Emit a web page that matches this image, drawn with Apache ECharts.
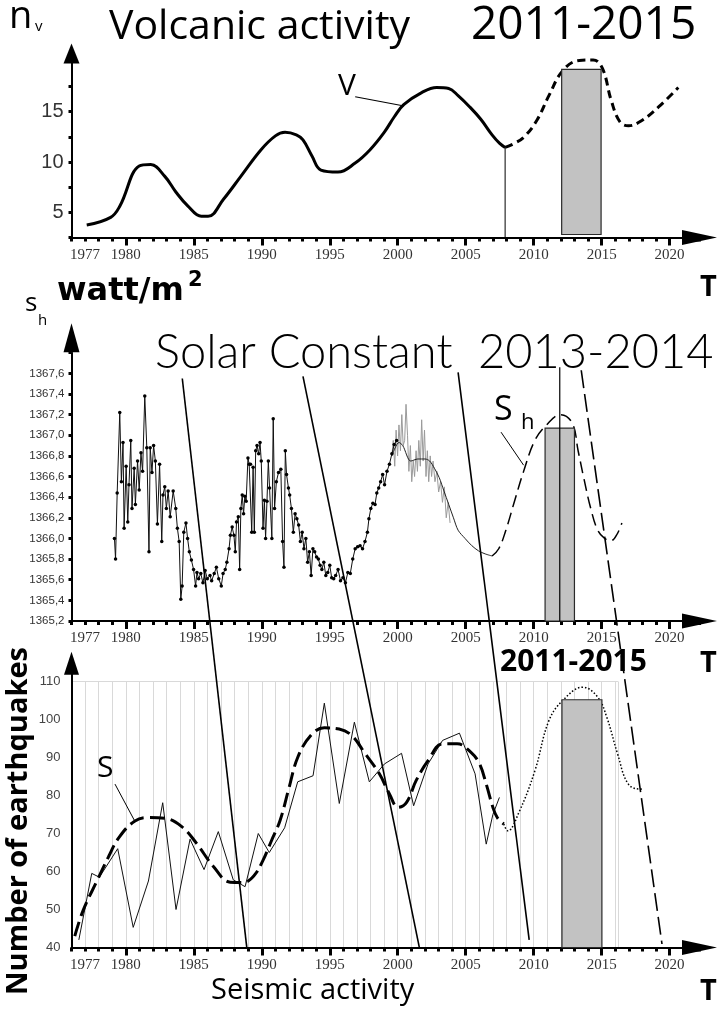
<!DOCTYPE html>
<html><head><meta charset="utf-8">
<script src="https://cdn.jsdelivr.net/npm/echarts@6/dist/echarts.min.js"></script>
<style>html,body{margin:0;padding:0;background:#fff}#c{width:719px;height:1011px}</style>
</head><body><div id="c"></div><script>
// ---------- tick labels ----------
const yearLabels = [1977,1980,1985,1990,1995,2000,2005,2010,2015,2020];
const volcLabels = [5,10,15];
const solarTicks = [1365.2,1365.4,1365.6,1365.8,1366.0,1366.2,1366.4,1366.6,1366.8,1367.0,1367.2,1367.4,1367.6];
const quakeLabels = [40,50,60,70,80,90,100,110];

// ---------- volcanic activity ----------
const volcObserved = [[1977.12,3.75],[1978.88,4.5],[1979.57,5.65],[1980.98,9.6],[1981.83,9.75],[1982.85,8.6],[1983.69,7.0],[1984.55,5.65],[1985.55,4.6],[1986.05,4.6],[1987.18,6.3],[1988.47,8.6],[1989.93,11.2],[1991.0,12.6],[1991.71,12.95],[1992.54,12.7],[1993.03,12.2],[1993.69,10.6],[1994.35,9.2],[1995.6,9.0],[1996.87,9.9],[1997.95,11.2],[1999.03,13.0],[1999.75,14.5],[2000.44,15.7],[2001.76,16.9],[2002.87,17.4],[2003.75,17.3],[2004.44,16.6],[2005.28,15.5],[2006.11,14.25],[2006.94,12.7],[2007.5,11.85],[2007.9,11.45]];
const volcForecast = [[2007.9,11.45],[2008.5,11.8],[2009.3,12.5],[2010.26,14.2],[2011.12,16.6],[2012.15,19.1],[2013.35,20.1],[2014.38,20.15],[2015.06,19.3],[2015.7,16.15],[2016.34,14.0],[2016.98,13.6],[2017.93,14.1],[2019.21,15.5],[2020.64,17.4]];
const volcMarker = [[2007.9,11.45],[2007.9,2.5]];
const volcBar = [[2012.06,2.8,2014.96,19.2]];
const volcLeader = [[1996.87,16.49],[2000.47,15.57]];

// ---------- solar constant ----------
const solarMonthly = [[1979.16,1366.0],[1979.24,1365.8],[1979.36,1366.44],[1979.55,1367.22],[1979.67,1366.55],[1979.79,1366.93],[1979.87,1366.1],[1980.02,1366.7],[1980.14,1366.16],[1980.23,1366.52],[1980.36,1366.95],[1980.45,1366.29],[1980.61,1366.68],[1980.7,1366.33],[1980.86,1366.75],[1980.98,1366.47],[1981.11,1366.83],[1981.23,1366.65],[1981.39,1367.38],[1981.54,1366.88],[1981.7,1365.87],[1981.79,1366.88],[1981.92,1366.64],[1982.04,1366.9],[1982.17,1366.75],[1982.32,1366.14],[1982.48,1366.72],[1982.64,1365.97],[1982.73,1366.42],[1982.86,1366.5],[1982.98,1366.29],[1983.11,1366.46],[1983.26,1366.21],[1983.48,1366.46],[1983.67,1366.29],[1983.79,1366.1],[1983.92,1365.97],[1984.04,1365.41],[1984.14,1365.54],[1984.26,1366.06],[1984.42,1366.15],[1984.54,1366.0],[1984.67,1365.87],[1984.82,1365.79],[1984.98,1365.7],[1985.13,1365.54],[1985.23,1365.67],[1985.35,1365.61],[1985.51,1365.66],[1985.67,1365.57],[1985.83,1365.69],[1985.99,1365.61],[1986.19,1365.64],[1986.31,1365.59],[1986.5,1365.66],[1986.66,1365.72],[1986.83,1365.61],[1987.02,1365.54],[1987.15,1365.66],[1987.31,1365.7],[1987.43,1365.77],[1987.59,1365.9],[1987.69,1366.03],[1987.82,1366.11],[1987.95,1366.03],[1988.05,1365.87],[1988.14,1366.16],[1988.27,1366.21],[1988.37,1365.7],[1988.46,1366.29],[1988.56,1366.42],[1988.66,1366.24],[1988.75,1366.41],[1988.85,1366.36],[1988.98,1366.78],[1989.07,1366.72],[1989.17,1366.72],[1989.26,1366.06],[1989.36,1366.69],[1989.45,1366.06],[1989.55,1366.85],[1989.65,1366.9],[1989.77,1366.82],[1989.87,1366.93],[1989.96,1366.75],[1990.09,1366.1],[1990.19,1366.37],[1990.28,1366.0],[1990.38,1366.36],[1990.48,1366.75],[1990.57,1366.49],[1990.74,1366.0],[1990.84,1367.16],[1990.94,1366.29],[1991.07,1366.55],[1991.23,1366.64],[1991.4,1366.67],[1991.53,1365.97],[1991.63,1365.72],[1991.73,1366.85],[1991.82,1366.62],[1991.96,1366.49],[1992.05,1366.42],[1992.18,1366.29],[1992.32,1366.06],[1992.45,1366.24],[1992.58,1366.19],[1992.71,1366.13],[1992.84,1365.97],[1992.97,1366.06],[1993.1,1365.9],[1993.24,1366.0],[1993.37,1365.77],[1993.5,1365.87],[1993.63,1365.64],[1993.76,1365.9],[1993.89,1365.87],[1994.03,1365.82],[1994.16,1365.8],[1994.29,1365.74],[1994.42,1365.7],[1994.56,1365.77],[1994.71,1365.64],[1994.85,1365.67],[1995.0,1365.74],[1995.14,1365.62],[1995.29,1365.61],[1995.43,1365.64],[1995.61,1365.7],[1995.79,1365.59],[1995.97,1365.62],[1996.15,1365.57],[1996.33,1365.67],[1996.51,1365.66],[1996.69,1365.8],[1996.87,1365.9],[1997.05,1365.92],[1997.23,1365.93],[1997.41,1365.9],[1997.59,1365.97],[1997.77,1366.06],[1997.88,1366.19],[1998.02,1366.29],[1998.17,1366.34],[1998.33,1366.33],[1998.46,1366.44],[1998.6,1366.49],[1998.74,1366.55],[1998.89,1366.62],[1999.03,1366.52],[1999.21,1366.65],[1999.39,1366.72],[1999.57,1366.82],[1999.74,1366.91],[1999.92,1366.95]];
const solarDaily = [[1999.57,1366.8],[1999.67,1366.95],[1999.78,1366.7],[1999.88,1367.05],[1999.99,1366.8],[2000.09,1367.1],[2000.2,1366.85],[2000.3,1367.2],[2000.4,1366.9],[2000.51,1366.95],[2000.61,1367.3],[2000.72,1367.0],[2000.82,1366.65],[2000.93,1366.9],[2001.03,1366.55],[2001.14,1366.75],[2001.24,1366.6],[2001.35,1366.85],[2001.45,1366.65],[2001.55,1366.95],[2001.66,1366.7],[2001.76,1367.15],[2001.87,1366.75],[2001.97,1367.05],[2002.08,1366.6],[2002.18,1366.85],[2002.28,1366.55],[2002.39,1366.8],[2002.49,1366.6],[2002.6,1366.75],[2002.74,1366.55],[2002.88,1366.65],[2003.01,1366.45],[2003.15,1366.55],[2003.29,1366.35],[2003.43,1366.5],[2003.57,1366.2],[2003.71,1366.35],[2003.85,1366.15]];
const solarSmooth = [[1999.57,1366.8],[2000.09,1366.93],[2000.37,1366.9],[2000.96,1366.75],[2001.48,1366.77],[2002.01,1366.77],[2002.35,1366.75],[2002.7,1366.68],[2003.05,1366.59],[2003.4,1366.46],[2003.75,1366.33],[2004.1,1366.2],[2004.44,1366.08],[2004.95,1366.0],[2005.45,1365.93],[2005.94,1365.88],[2006.44,1365.85],[2006.94,1365.83]];
const solarForecast = [[2006.94,1365.83],[2007.43,1365.9],[2007.93,1366.07],[2008.59,1366.36],[2009.26,1366.65],[2010.09,1366.95],[2010.95,1367.1],[2011.97,1367.2],[2012.83,1367.12],[2013.27,1366.85],[2013.68,1366.59],[2014.2,1366.29],[2014.71,1366.08],[2015.22,1366.0],[2015.7,1365.98],[2016.17,1366.05],[2016.49,1366.15]];
const solarBar = [[2010.84,1365.2,2013.0,1367.07]];
const solarMarker = [[2011.92,1367.66],[2011.92,1365.2]];
const solarLeader = [[2007.6,1367.03],[2009.26,1366.71]];
// links drawn across the solar and seismic panels (solar-panel units)
const link1 = [[1984.15,1367.55],[1988.9,1362.03]];
const link2 = [[1993.03,1367.57],[2001.6,1362.03]];
const link3 = [[2004.44,1367.61],[2009.67,1362.11]];
const linkDashed = [[2013.5,1367.63],[2019.44,1362.07]];

// ---------- seismic activity ----------
const quakeAnnual = [[1976.54,42],[1977.49,59.5],[1978.05,58.5],[1979.4,66],[1980.54,45.3],[1981.66,57.5],[1982.71,78.1],[1983.69,50],[1984.72,68.5],[1985.75,60.5],[1986.8,70.5],[1987.9,57.8],[1988.77,56],[1989.74,70],[1990.55,65],[1991.68,71.5],[1992.64,83.6],[1993.77,85.2],[1994.6,104.3],[1995.7,77.9],[1996.81,99.3],[1997.91,83.6],[1999.02,88.3],[2000.28,91.1],[2001.17,77.3],[2002.23,88.3],[2003.3,94.5],[2004.54,96.4],[2005.69,85.7],[2006.51,67.2],[2007.0,75],[2007.48,79.5]];
const quakeTrend = [[1976.24,43],[1976.85,49.7],[1977.87,57.5],[1978.74,64],[1979.5,69],[1980.67,73.3],[1981.65,74.2],[1982.85,74],[1984.11,71.8],[1985.2,67.4],[1986.44,61.3],[1987.67,57.2],[1988.62,57.1],[1989.42,58.9],[1990.07,62.8],[1990.71,68.1],[1991.35,73.5],[1992.0,82],[1992.64,90],[1993.6,95.8],[1994.6,97.8],[1995.69,97.5],[1996.62,95.8],[1997.53,91.4],[1998.65,85.7],[1999.39,80.4],[2000.03,76.9],[2000.65,78.2],[2001.35,83.9],[2002.23,89.2],[2003.3,93.6],[2004.37,93.6],[2005.37,91.4],[2006.02,88.3],[2006.51,83],[2007.0,76.9],[2007.32,74.2],[2007.8,72.5]];
const quakeForecast = [[2007.8,72.5],[2008.1,70.7],[2008.92,75.6],[2010.09,86.5],[2011.12,99.7],[2012.14,105],[2013.61,108.5],[2014.71,105.9],[2015.38,100.6],[2016.17,91],[2016.97,83],[2017.93,81.7],[2018.1,82]];
const quakeBar = [[2012.08,40,2015.02,105.2]];
const quakeLeader = [[1979.2,83.0],[1980.68,73.1]];

// ---------- build ----------
const chart = echarts.init(document.getElementById('c'), null, {renderer:'canvas'});
const XMIN = 1976, XMAX = 2022.2, PX_PER_YEAR = 628 / (XMAX - XMIN);
const LEFT = 71.5, WIDTH = 628;
const panelBoxes = [
  {top:61.4, height:176.1},
  {top:352.7, height:268.3},
  {top:673.9, height:273.6}
];
const grids = [];
panelBoxes.forEach(b => grids.push({left:LEFT, width:WIDTH, top:b.top, height:b.height}));
grids.push({left:LEFT, width:(2016.2 - XMIN) * PX_PER_YEAR, top:681.5, height:266});   // seismic grid lines (index 3)
// major (5-year) tick grids, 1980..2020, sharing the same year scale (indices 4,5,6)
panelBoxes.forEach(b => grids.push({left:LEFT + (1980 - XMIN) * PX_PER_YEAR, width:(2020 - 1980) * PX_PER_YEAR, top:b.top, height:b.height}));
grids.forEach(g => { g.outerBoundsMode = 'none'; g.containLabel = false; });

function mainX(gi){
  return {gridIndex:gi, type:'value', position:'bottom', min:XMIN, max:XMAX, interval:1,
    axisLine:{show:true, lineStyle:{color:'#000', width:2}, symbol:['none','triangle'], symbolSize:[15,35], symbolOffset:[0,0]},
    axisTick:{show:true, length:4, lineStyle:{color:'#000', width:3}},
    axisLabel:{show:true, customValues:yearLabels, formatter:v => String(Math.round(v)), fontFamily:'Liberation Serif', fontSize:15, color:'#333', margin:10},
    splitLine:{show:false}};
}
function majorX(gi){
  return {gridIndex:gi, type:'value', position:'bottom', min:1980, max:2020, interval:5,
    axisLine:{show:false}, axisLabel:{show:false}, splitLine:{show:false},
    axisTick:{show:true, length:8, lineStyle:{color:'#000', width:3}}};
}
function hiddenY(gi){
  return {gridIndex:gi, type:'value', min:0, max:1, show:false,
    axisLine:{show:false}, axisTick:{show:false}, axisLabel:{show:false}, splitLine:{show:false}};
}
const xAxes = [mainX(0), mainX(1), mainX(2),
  {gridIndex:3, type:'value', position:'bottom', min:XMIN, max:2016.2, interval:1,
   axisLine:{show:false}, axisTick:{show:false}, axisLabel:{show:false},
   splitLine:{show:true, lineStyle:{color:'#d9d9d9', width:1}}},
  majorX(4), majorX(5), majorX(6)];

const yAxes = [
  {gridIndex:0, type:'value', position:'left', min:2.5, max:20, interval:2.5,
   axisLine:{show:true, lineStyle:{color:'#000', width:2}, symbol:['none','triangle'], symbolSize:[16,20], symbolOffset:[0,8]},
   axisTick:{show:true, length:3, lineStyle:{color:'#000', width:3}},
   axisLabel:{show:true, customValues:volcLabels, fontFamily:'Liberation Sans', fontSize:20, color:'#333', margin:8},
   splitLine:{show:false}},
  {gridIndex:1, type:'value', position:'left', min:1365.2, max:1367.8, interval:0.2,
   axisLine:{show:true, lineStyle:{color:'#000', width:2}, symbol:['none','triangle'], symbolSize:[16,29], symbolOffset:[0,15]},
   axisTick:{show:true, length:3, lineStyle:{color:'#000', width:3}},
   axisLabel:{show:true, customValues:solarTicks, formatter:v => v.toFixed(1).replace('.', ','), fontFamily:'Liberation Sans', fontSize:11.5, color:'#333', margin:7},
   splitLine:{show:false}},
  {gridIndex:2, type:'value', position:'left', min:40, max:112,
   axisLine:{show:true, lineStyle:{color:'#000', width:2}, symbol:['none','triangle'], symbolSize:[15,23], symbolOffset:[0,10.6]},
   axisTick:{show:false},
   axisLabel:{show:true, customValues:quakeLabels, fontFamily:'Liberation Sans', fontSize:13, color:'#444', margin:11},
   splitLine:{show:false}},
  {gridIndex:3, type:'value', position:'left', min:40, max:110, interval:70,
   axisLine:{show:false}, axisTick:{show:false}, axisLabel:{show:false},
   splitLine:{show:true, lineStyle:{color:'#d9d9d9', width:1}}},
  hiddenY(4), hiddenY(5), hiddenY(6)
];

function line(xi, yi, data, style, extra){
  return Object.assign({type:'line', xAxisIndex:xi, yAxisIndex:yi, data:data, symbol:'none',
    lineStyle:style, silent:true, animation:false, clip:false, z:3}, extra || {});
}
function rectItem(params, api){
  const p1 = api.coord([api.value(0), api.value(3)]);
  const p2 = api.coord([api.value(2), api.value(1)]);
  return {type:'rect', shape:{x:p1[0], y:p1[1], width:p2[0]-p1[0], height:p2[1]-p1[1]},
    style:{fill:'#c2c2c2', stroke:'#2a2a2a', lineWidth:1.2}};
}
function bar(xi, yi, data){
  return {type:'custom', xAxisIndex:xi, yAxisIndex:yi, data:data, renderItem:rectItem,
    encode:{x:[0,2], y:[1,3]}, silent:true, animation:false, z:5};
}

const series = [
  // volcanic
  line(0,0,volcObserved,{color:'#000', width:3}, {smooth:0.4}),
  line(0,0,volcForecast,{color:'#000', width:3, type:[8,5]}, {smooth:0.4}),
  line(0,0,volcMarker,{color:'#000', width:1}),
  line(0,0,volcLeader,{color:'#000', width:1.2}),
  bar(0,0,volcBar),
  // solar
  line(1,1,solarDaily,{color:'#9a9a9a', width:1}),
  line(1,1,solarMonthly,{color:'#111', width:1}, {symbol:'circle', symbolSize:3.5, itemStyle:{color:'#000'}}),
  line(1,1,solarSmooth,{color:'#222', width:1}, {smooth:0.3}),
  line(1,1,solarForecast,{color:'#000', width:1.5, type:[12,6]}, {smooth:0.4}),
  bar(1,1,solarBar),
  line(1,1,solarMarker,{color:'#000', width:1.2}, {z:6}),
  line(1,1,solarLeader,{color:'#000', width:1}),
  line(1,1,link1,{color:'#000', width:1.6}, {z:7}),
  line(1,1,link2,{color:'#000', width:1.6}, {z:7}),
  line(1,1,link3,{color:'#000', width:1.6}, {z:7}),
  line(1,1,linkDashed,{color:'#000', width:1.6, type:[18,6]}, {z:7}),
  // seismic
  line(2,2,quakeAnnual,{color:'#111', width:1}),
  line(2,2,quakeTrend,{color:'#000', width:3, type:[15,6]}, {smooth:0.4}),
  line(2,2,quakeForecast,{color:'#000', width:1.5, type:[1.5,2]}, {smooth:0.4}),
  line(2,2,quakeLeader,{color:'#000', width:1}),
  bar(2,2,quakeBar)
];

function txt(x, y, text, font){
  return {type:'text', x:x, y:y, silent:true, z:10,
    style:{text:text, font:font, fill:'#000', textAlign:'left', textVerticalAlign:'middle', align:'left', verticalAlign:'middle'}};
}
const OS = '"Open Sans", "Noto Sans", sans-serif';
const graphics = [
  txt(9, 17, 'n', '38px ' + OS),
  txt(35, 27, 'v', '15px ' + OS),
  txt(109, 27, 'Volcanic activity', '41px ' + OS),
  txt(471, 26, '2011-2015', '46px ' + OS),
  txt(338, 86, 'V', '30px ' + OS),
  txt(700, 288, 'T', 'bold 29px ' + OS),
  txt(25, 304, 's', '26px ' + OS),
  txt(38, 321, 'h', '15px ' + OS),
  txt(57, 292, 'watt/m', 'bold 32px "DejaVu Sans"'),
  txt(188, 281, '2', 'bold 21px "DejaVu Sans"'),
  txt(155, 353, 'Solar Constant', '300 47px Lato'),
  txt(478, 353, '2013-2014', '300 47px Lato'),
  txt(494, 410, 'S', '34px ' + OS),
  txt(521, 423, 'h', '22px ' + OS),
  txt(700, 664, 'T', 'bold 29px ' + OS),
  txt(500, 662, '2011-2015', 'bold 30px ' + OS),
  txt(97, 768, 'S', '30px ' + OS),
  {type:'text', x:19, y:821, rotation:Math.PI/2, silent:true, z:10,
   style:{text:'Number of earthquakes', font:'bold 29px ' + OS, fill:'#000', textAlign:'center', textVerticalAlign:'middle', align:'center', verticalAlign:'middle'}},
  txt(211, 991, 'Seismic activity', '29px ' + OS),
  txt(700, 992, 'T', 'bold 29px ' + OS)
];

chart.setOption({
  backgroundColor:'#fff',
  animation:false,
  grid:grids,
  xAxis:xAxes,
  yAxis:yAxes,
  series:series,
  graphic:graphics
});
</script></body></html>
